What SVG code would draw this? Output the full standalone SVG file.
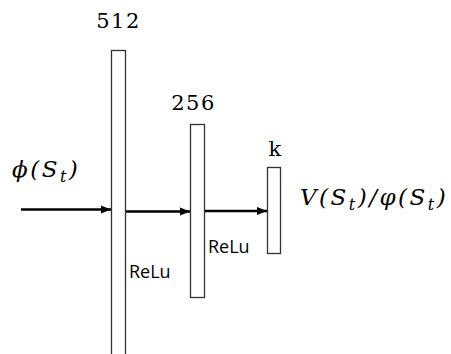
<svg xmlns="http://www.w3.org/2000/svg" width="451" height="354" viewBox="0 0 451 354">
  <style>
    .layer { fill: #ffffff; stroke-width: 1.3; }
    .num { font-family: "DejaVu Serif", "Liberation Serif", serif; font-size: 21px; letter-spacing: 1.5px; fill: #000; text-anchor: middle; }
    .math { font-family: "DejaVu Serif", "Liberation Serif", serif; font-style: italic; font-size: 23px; letter-spacing: 2.5px; fill: #000; }
    .sub { font-size: 16px; }
    .act { font-family: "Open Sans", "DejaVu Sans", sans-serif; font-size: 18px; fill: #000; }
    .edge { stroke: #000; stroke-width: 2.5; fill: none; }
  </style>
  <defs>
    <marker id="arrow" viewBox="0 0 10 10" refX="10" refY="5" markerWidth="4" markerHeight="4" orient="auto" markerUnits="strokeWidth">
      <path d="M0,1 L10,5 L0,9 z" fill="#000"/>
    </marker>
  </defs>
  <rect width="451" height="354" fill="#ffffff"/>

  <g id="layer-512">
    <rect class="layer" x="111.5" y="50.5" width="14" height="310" stroke="#333"/>
    <text class="num" x="118.5" y="28">512</text>
  </g>
  <g id="layer-256">
    <rect class="layer" x="190.5" y="124.5" width="14" height="173" stroke="#333"/>
    <text class="num" x="193.5" y="110">256</text>
  </g>
  <g id="layer-k">
    <rect class="layer" x="267.5" y="167.5" width="13" height="86" stroke="#333"/>
    <text class="num" x="275.5" y="156">k</text>
  </g>

  <g id="input-label">
    <text class="math" x="12" y="177">ϕ(S<tspan class="sub" dy="5">t</tspan><tspan dy="-5">)</tspan></text>
  </g>
  <g id="output-label">
    <text class="math" x="300" y="205">V(S<tspan class="sub" dy="5">t</tspan><tspan dy="-5">)/φ(S</tspan><tspan class="sub" dy="5">t</tspan><tspan dy="-5">)</tspan></text>
  </g>

  <g id="activations">
    <text class="act" x="129" y="278">ReLu</text>
    <text class="act" x="208" y="253">ReLu</text>
  </g>

  <g id="connectors">
    <line class="edge" x1="21" y1="209.5" x2="111" y2="209.5" marker-end="url(#arrow)"/>
    <line class="edge" x1="126" y1="211.5" x2="190" y2="211.5" marker-end="url(#arrow)"/>
    <line class="edge" x1="205" y1="211" x2="267" y2="211" marker-end="url(#arrow)"/>
  </g>
</svg>
